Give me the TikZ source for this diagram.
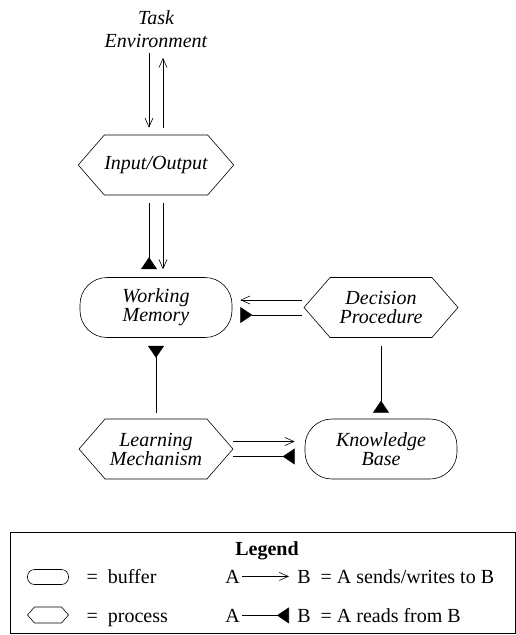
\documentclass[tikz,border=0pt]{standalone}
\usepackage{fontspec}
\setmainfont{Liberation Serif}
\usetikzlibrary{arrows.meta,shapes.symbols}

\begin{document}
\begin{tikzpicture}
[x=1pt,y=-1pt,line width=0.6pt,
  font=\fontsize{20}{20}\selectfont,
  bufferDecorate/.style={shape=rectangle,draw,rounded corners=27pt,
    minimum width=152pt,minimum height=60pt,inner sep=0pt,align=center,
    font=\fontsize{20}{19}\selectfont\itshape},%
  processDecorate/.style={shape=signal,signal to=east and west,
    signal pointer angle=98,draw,minimum width=154pt,minimum height=60pt,
    inner sep=0pt,align=center,font=\fontsize{20}{19}\selectfont\itshape},%
  writeDecorate/.style={-{Straight Barb[length=9pt,width=8pt]}},%
  readDecorate/.style={-{Triangle[reversed,length=12pt,width=16pt]}}]
\useasboundingbox (0,0) rectangle (516,635);
%% nodes or buffers and processes
\node (env) at (156,29) [font=\fontsize{20}{23}\selectfont\itshape,
  align=center,inner sep=1pt] {Task\\Environment};
\foreach \nodename/\kind/\x/\y/\nodetext in {
  io/processDecorate/156/165/{Input/Output},
  wm/bufferDecorate/156/307.5/{Working\\Memory},
  dp/processDecorate/381/307.5/{Decision\\Procedure},
  lm/processDecorate/156/449/{Learning\\Mechanism},
  kb/bufferDecorate/381/449/{Knowledge\\Base}}
{
  \node (\nodename) at (\x,\y) [\kind] {\nodetext};
}
%% connectors
\draw[writeDecorate,shorten <=4pt,shorten >=7pt]
  ([xshift=-7pt]env.south) -- ([xshift=-7pt]io.north);
\draw[writeDecorate,shorten <=7pt,shorten >=9pt]
  ([xshift=7pt]io.north) -- ([xshift=7pt]env.south);
\draw[readDecorate,shorten <=8pt,shorten >=8pt]
  ([xshift=-7pt]io.south) -- ([xshift=-7pt]wm.north);
\draw[writeDecorate,shorten <=8pt,shorten >=8pt]
  ([xshift=7pt]io.south) -- ([xshift=7pt]wm.north);
\draw[writeDecorate,shorten <=2pt,shorten >=8pt]
  ([yshift=7.5pt]dp.west) -- ([yshift=7.5pt]dp.west -| wm.east);
\draw[readDecorate,shorten <=2pt,shorten >=8pt]
  ([yshift=-7.5pt]dp.west) -- ([yshift=-7.5pt]dp.west -| wm.east);
\draw[readDecorate,shorten <=6pt,shorten >=8pt] (lm.north) -- (wm.south);
\draw[readDecorate,shorten <=8pt,shorten >=6pt] (dp.south) -- (kb.north);
\draw[writeDecorate,shorten >=10pt]
  ([yshift=7.5pt]lm.east) -- ([yshift=7.5pt]lm.east -| kb.west);
\draw[readDecorate,shorten >=10pt]
  ([yshift=-7.5pt]lm.east) -- ([yshift=-7.5pt]lm.east -| kb.west);
%% legend
\node (legendBox) at (262.5,582.5) [draw,minimum width=505pt,
  minimum height=101pt,inner sep=0pt] {};
\node (legendTitle) at (267,555) [anchor=base,font=\fontsize{20}{20}\selectfont\bfseries] {Legend};
\node (bufferKey) at (48,577) [bufferDecorate,rounded corners=7pt,
  minimum width=41pt,minimum height=15pt] {};
\node (processKey) at (48,615) [processDecorate,minimum width=41pt,
  minimum height=16pt] {};
\node (bufferText) at (83,583) [anchor=base west] {=\enspace buffer};
\node (processText) at (83,622) [anchor=base west] {=\enspace process};
\node (sendsA) at (223,583) [anchor=base west,inner sep=2pt] {A};
\node (sendsB) at (295,583) [anchor=base west,inner sep=2pt] {B\enspace= A sends/writes to B};
\node (readsA) at (223,622) [anchor=base west,inner sep=2pt] {A};
\node (readsB) at (295,622) [anchor=base west,inner sep=2pt] {B\enspace= A reads from B};
\draw[writeDecorate,shorten >=6pt] (sendsA.east) -- (sendsA.east -| sendsB.west);
\draw[readDecorate,shorten >=6pt] (readsA.east) -- (readsA.east -| readsB.west);
\end{tikzpicture}
\end{document}
